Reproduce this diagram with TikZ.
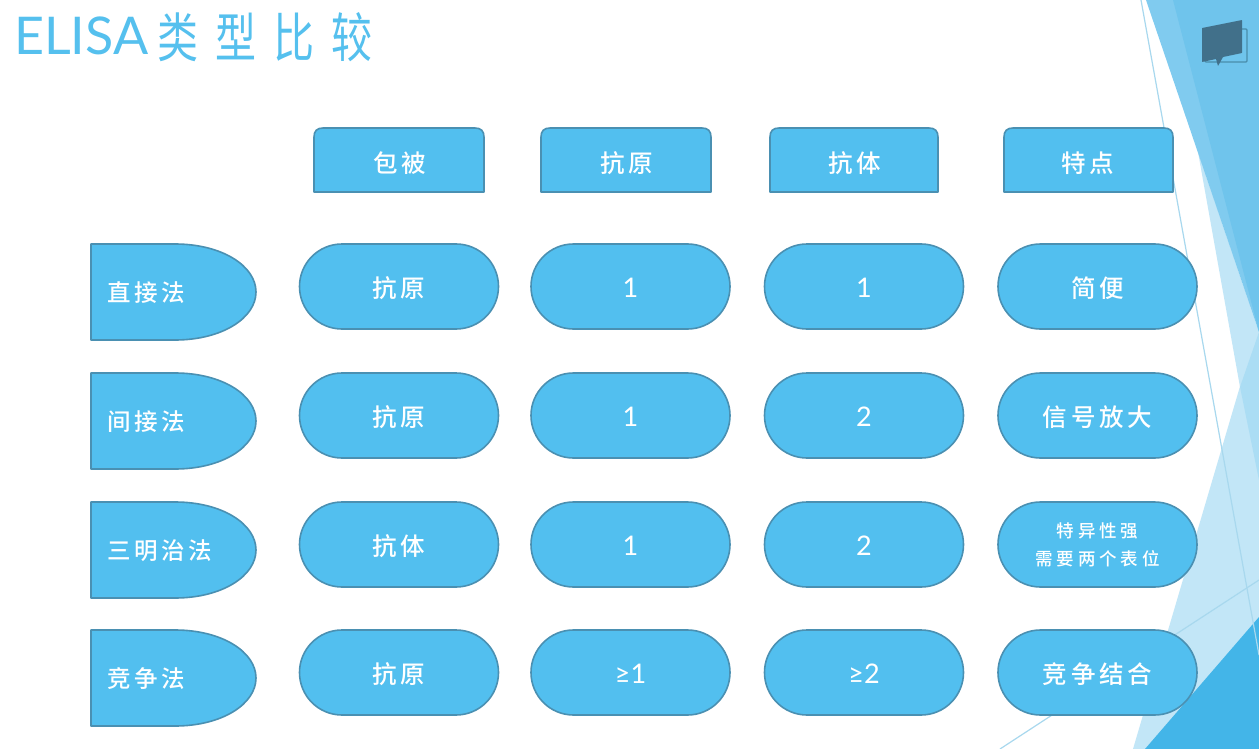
\documentclass[tikz,border=0pt]{standalone}
\usepackage{fontspec}
\usetikzlibrary{shapes.misc}
\setmainfont{Lato}
\newfontfamily\cjk[LetterSpace=15]{Noto Sans CJK SC Medium}
\newfontfamily\cjktitle[LetterSpace=42]{Noto Sans CJK SC}
\newfontfamily\cjksmall[LetterSpace=22]{Noto Sans CJK SC Medium}
\definecolor{boxfill}{HTML}{52BFEF}
\definecolor{boxline}{HTML}{4A90B2}
\definecolor{titleblue}{HTML}{55C0EE}
\definecolor{bandlight}{HTML}{80CBEF}
\definecolor{banddark}{HTML}{6FC4EC}
\definecolor{palea}{HTML}{C2E6F7}
\definecolor{paleb}{HTML}{ABDDF4}
\definecolor{cornerblue}{HTML}{43B5E8}
\definecolor{thinline}{HTML}{A8D8EE}
\definecolor{icondark}{HTML}{41708A}
\definecolor{iconline}{HTML}{4A8DAB}
\tikzset{
  cell/.style={rounded rectangle,draw=boxline,line width=1.6pt,fill=boxfill,text=white,
    minimum width=199pt,minimum height=85pt,inner sep=0pt,align=center},
  pill/.style={cell,font=\fontsize{24.5}{30}\selectfont\cjk,text height=24pt,text depth=2pt},
  num/.style={cell,font=\fontsize{27}{30}\selectfont,text height=24pt,text depth=2pt},
  smallpill/.style={cell,font=\fontsize{17.5}{28}\selectfont\cjksmall},
  shapeline/.style={draw=boxline,line width=1.6pt,fill=boxfill,line join=round},
  label/.style={text=white,inner sep=0pt,font=\fontsize{24.5}{30}\selectfont\cjk},
  rowlabel/.style={label,font=\fontsize{23.5}{30}\selectfont\cjk},
  leaf/.style={thinline,line width=1.2pt}
}
\newcommand{\headbox}[5]{% name, left, right, text, text centre
  \path[shapeline] (#2,192) -- (#2,137) .. controls (#2,131) and (#2+3,128) .. (#2+9,128)
    -- (#3-9,128) .. controls (#3-3,128) and (#3,131) .. (#3,137) -- (#3,192) -- cycle;
  \node[label] (#1) at (#5,163) {#4};}
\newcommand{\rowhead}[3]{% name, top, text
  \path[shapeline] (91,#2) -- (175,#2) .. controls (222,#2) and (256,#2+22) .. (256,#2+48)
    .. controls (256,#2+74) and (222,#2+96) .. (175,#2+96) -- (91,#2+96) -- cycle;
  \node[rowlabel,anchor=west] (#1) at (107,#2+49) {#3};}
\begin{document}
\begin{tikzpicture}[x=1pt,y=-1pt]
\useasboundingbox (0,0) rectangle (1259,749);
\fill[white] (0,0) rectangle (1259,749);
% background facets
\fill[palea] (1133,749) -- (1259,322) -- (1259,749) -- cycle;
\fill[palea] (1198,152) -- (1240,387) -- (1259,332) -- cycle;
\fill[paleb] (1259,332) -- (1240,387) -- (1259,480) -- cycle;
\fill[bandlight] (1146,0) -- (1259,0) -- (1259,332) -- cycle;
\fill[banddark] (1173,0) -- (1259,0) -- (1259,332) -- cycle;
\fill[cornerblue] (1145,749) -- (1259,617) -- (1259,749) -- cycle;
\draw[leaf] (1141,0) -- (1259,655);
\draw[leaf] (1000,749) -- (1259,580);
% icon
\draw[iconline,line width=1.3pt,rounded corners=1pt] (1205,29) rectangle (1247,62);
\fill[icondark,rounded corners=0.5pt] (1202,28) -- (1242,20) -- (1242,53) -- (1223,57) -- (1218,66) -- (1216,59) -- (1202,62) -- cycle;
% title
\node[anchor=base west,inner sep=0pt,text=titleblue] (title) at (14,55)
  {\fontsize{52}{60}\selectfont ELISA\hspace{9pt}\raisebox{-2.5pt}{\scalebox{1}[1.3]{\fontsize{41}{60}\selectfont\cjktitle 类型比较}}};
% column headers
\headbox{hA}{314}{484}{包被}{400}
\headbox{hB}{541}{711}{抗原}{627}
\headbox{hC}{770}{938}{抗体}{855}
\headbox{hD}{1004}{1173}{特点}{1088}
% row headers
\rowhead{r1}{244}{直接法}
\rowhead{r2}{373}{间接法}
\rowhead{r3}{502}{三明治法}
\rowhead{r4}{630}{竞争法}
% cells
\node[pill] (a1) at (399,286.5) {抗原};
\node[num]  (b1) at (630.5,286.5) {1};
\node[num]  (c1) at (864,286.5) {1};
\node[pill] (d1) at (1097.5,286.5) {简便};
\node[pill] (a2) at (399,415.5) {抗原};
\node[num]  (b2) at (630.5,415.5) {1};
\node[num]  (c2) at (864,415.5) {2};
\node[pill] (d2) at (1097.5,415.5) {信号放大};
\node[pill] (a3) at (399,544.5) {抗体};
\node[num]  (b3) at (630.5,544.5) {1};
\node[num]  (c3) at (864,544.5) {2};
\node[smallpill] (d3) at (1097.5,544.5) {特异性强\\需要两个表位};
\node[pill] (a4) at (399,672.5) {抗原};
\node[num]  (b4) at (630.5,672.5) {≥1};
\node[num]  (c4) at (864,672.5) {≥2};
\node[pill] (d4) at (1097.5,672.5) {竞争结合};
\end{tikzpicture}
\end{document}
